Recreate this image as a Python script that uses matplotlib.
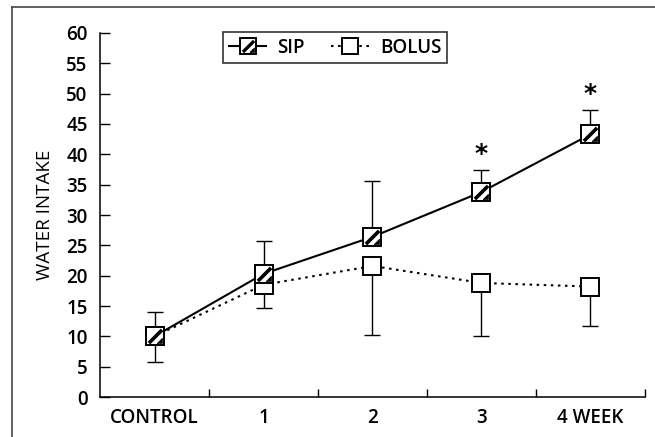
import matplotlib
matplotlib.use("Agg")
import matplotlib.pyplot as plt
from matplotlib.lines import Line2D
import numpy as np

categories = ["CONTROL", "1", "2", "3", "4 WEEK"]
sip = [10.0, 20.3, 26.4, 33.8, 43.3]
sip_err_up = [4.0, 5.4, 9.2, 3.6, 4.0]
bolus = [10.0, 18.5, 21.6, 18.8, 18.2]
bolus_err_down = [4.3, 3.9, 11.4, 8.8, 6.5]
significant = [False, False, False, True, True]
yticks = list(range(0, 65, 5))

plt.rcParams['font.family'] = ['Open Sans', 'DejaVu Sans']
plt.rcParams['font.weight'] = 'semibold'
FS = 13.5

fig = plt.figure(figsize=(6.55, 4.37), dpi=100)
ax = fig.add_axes([0.1527, 0.0915, 0.832, 0.833])

x = np.arange(len(categories))
dot = (0, (1.2, 2.2))
diag = [(-1, -1), (1, 1)]
corner = [(0.25, -1), (1, -1), (1, -0.25), (0.25, -1)]

# BOLUS
ax.errorbar(x, bolus, yerr=[bolus_err_down, [0]*len(x)], fmt='none',
            ecolor='black', elinewidth=1.0, capsize=6, capthick=1.0, zorder=2)
ax.plot(x, bolus, linestyle=dot, color='black', lw=1.5,
        marker='s', markersize=13, markerfacecolor='white',
        markeredgecolor='black', markeredgewidth=1.4, zorder=3)

# SIP
ax.errorbar(x, sip, yerr=[[0]*len(x), sip_err_up], fmt='none',
            ecolor='black', elinewidth=1.0, capsize=6, capthick=1.0, zorder=2)
ax.plot(x, sip, linestyle='-', color='black', lw=1.5,
        marker='s', markersize=13, markerfacecolor='white',
        markeredgecolor='black', markeredgewidth=1.4, zorder=4)
ax.plot(x, sip, linestyle='none', marker=diag, markersize=9.5,
        markeredgecolor='black', markeredgewidth=2.6, zorder=5)
ax.plot(x, sip, linestyle='none', marker=corner, markersize=10,
        markerfacecolor='black', markeredgecolor='black', markeredgewidth=0.5,
        zorder=5)

for xi, yi, e, s in zip(x, sip, sip_err_up, significant):
    if s:
        ax.text(xi, yi + e + 0.6, "*", ha='center', va='bottom',
                fontsize=18, fontweight='bold', family='DejaVu Sans')

ax.set_xlim(-0.5, 4.5)
ax.set_ylim(0, 60)
ax.set_yticks(yticks)
ax.set_xticks(x)
ax.set_xticklabels(categories)
ax.set_xticks(np.arange(0.5, 5, 1), minor=True)
ax.tick_params(axis='x', which='major', length=0, pad=8, labelsize=FS)
ax.tick_params(axis='x', which='minor', direction='in', length=6, width=1)
ax.tick_params(axis='y', direction='in', length=7, width=1, labelsize=FS, pad=9)
for sp in ['top', 'right']:
    ax.spines[sp].set_visible(False)
for sp in ['left', 'bottom']:
    ax.spines[sp].set_linewidth(1.1)
ax.set_ylabel("WATER INTAKE", fontsize=FS, labelpad=9)

# legend
h1 = (Line2D([], [], color='black', lw=1.5, marker='s', markersize=11,
             markerfacecolor='white', markeredgecolor='black', markeredgewidth=1.4),
      Line2D([], [], linestyle='none', marker=diag, markersize=8,
             markeredgecolor='black', markeredgewidth=2.4),
      Line2D([], [], linestyle='none', marker=corner, markersize=8.5,
             markerfacecolor='black', markeredgecolor='black', markeredgewidth=0.5))
h2 = Line2D([], [], color='black', lw=1.5, linestyle=dot, marker='s',
            markersize=11, markerfacecolor='white', markeredgecolor='black',
            markeredgewidth=1.4)
leg = ax.legend([h1, h2], ["SIP", "BOLUS"], ncol=2, loc='upper left',
                bbox_to_anchor=(0.226, 1.003), borderaxespad=0, frameon=True,
                fancybox=False, edgecolor='black', fontsize=FS, handlelength=2.0,
                columnspacing=1.4, borderpad=0.3, handletextpad=0.6)
leg.get_frame().set_linewidth(1.2)

# outer frame
fig.add_artist(Line2D([12/655, 12/655], [0, 1 - 7/437], color='#444444', lw=1.2,
                      transform=fig.transFigure))
fig.add_artist(Line2D([12/655, 1], [1 - 7/437, 1 - 7/437], color='#444444', lw=1.2,
                      transform=fig.transFigure))

fig.savefig("out.png", dpi=100)
